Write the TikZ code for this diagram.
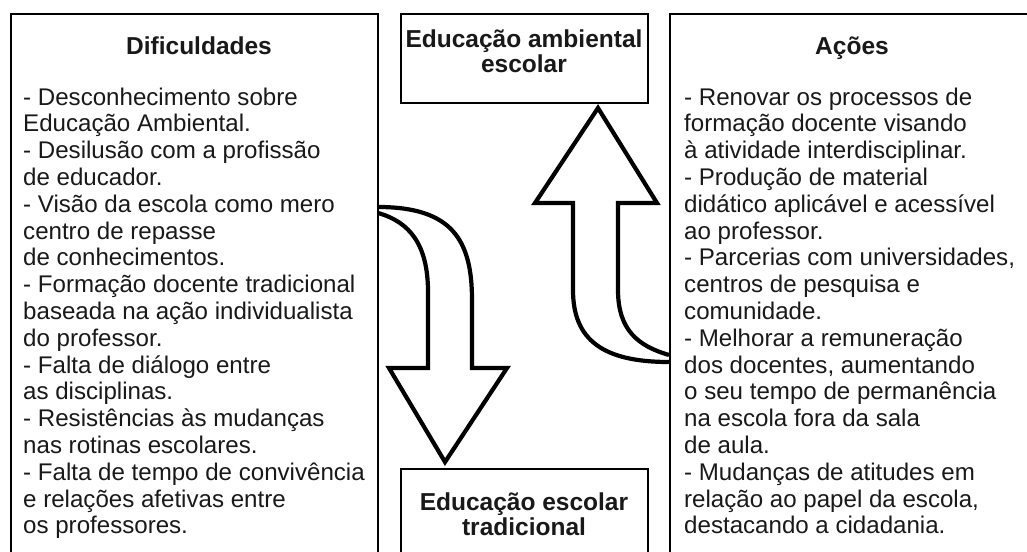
\documentclass[tikz,border=0pt]{standalone}
\usepackage{fontspec}
\setmainfont{Liberation Sans}
\tikzset{
  box/.style={draw=black, line width=1.8pt, rectangle, inner sep=0pt},
  blockarrow/.style={draw=black, fill=white, line width=4.2pt, line join=miter, miter limit=10},
  bodytxt/.style={anchor=base west, inner sep=0pt, text=black!90},
  headtxt/.style={anchor=base, inner sep=0pt, text=black!90, font=\bfseries\fontsize{24.5}{25}\selectfont, align=center}
}
\newcommand{\bodyfont}{\fontsize{24.1}{26.8}\selectfont}
\begin{document}
\begin{tikzpicture}[x=1pt,y=-1pt]
\useasboundingbox (0,0) rectangle (1027,551);
\clip (0,0) rectangle (1027,551);
\fill[white] (0,0) rectangle (1027,551);

% arrows
\draw[blockarrow] (378,207) .. controls (452,207) and (472,240) .. (472,300) -- (472,368) -- (507,368) -- (445,462) -- (389,368) -- (428,368) -- (428,292) .. controls (428,245) and (410,222) .. (378,213);
\draw[blockarrow] (669,362) .. controls (603,362) and (573,340) .. (573,290) -- (573,203) -- (535,203) -- (598,108) -- (657,203) -- (618,203) -- (618,290) .. controls (618,330) and (638,346) .. (669,355);

% boxes
\node[box, anchor=north west, minimum width=367pt, minimum height=600pt] (dif) at (10,13) {};
\node[box, anchor=north west, minimum width=367pt, minimum height=600pt] (aco) at (669,13) {};
\node[box, anchor=north west, minimum width=247pt, minimum height=89pt] (amb) at (400,13) {};
\node[box, anchor=north west, minimum width=247pt, minimum height=120pt] (tra) at (400,468) {};

% headings (base anchor = baseline of the last line)
\node[headtxt] (difh) at (199,55) {Dificuldades};
\node[headtxt] (acoh) at (852,55) {Ações};
\node[headtxt] (ambh) at (524,73) {Educação ambiental\\escolar};
\node[headtxt] (trah) at (524,535) {Educação escolar\\tradicional};

% body texts
\node[bodytxt] (diftxt) at (23,105) {\parbox[t]{360pt}{\bodyfont\raggedright
- Desconhecimento sobre\\
Educação Ambiental.\\
- Desilusão com a profissão\\
de educador.\\
- Visão da escola como mero\\
centro de repasse\\
de conhecimentos.\\
- Formação docente tradicional\\
baseada na ação individualista\\
do professor.\\
- Falta de diálogo entre\\
as disciplinas.\\
- Resistências às mudanças\\
nas rotinas escolares.\\
- Falta de tempo de convivência\\
e relações afetivas entre\\
os professores.}};
\node[bodytxt] (acotxt) at (684,105) {\parbox[t]{360pt}{\bodyfont\raggedright
- Renovar os processos de\\
formação docente visando\\
à atividade interdisciplinar.\\
- Produção de material\\
didático aplicável e acessível\\
ao professor.\\
- Parcerias com universidades,\\
centros de pesquisa e\\
comunidade.\\
- Melhorar a remuneração\\
dos docentes, aumentando\\
o seu tempo de permanência\\
na escola fora da sala\\
de aula.\\
- Mudanças de atitudes em\\
relação ao papel da escola,\\
destacando a cidadania.}};
\end{tikzpicture}
\end{document}
